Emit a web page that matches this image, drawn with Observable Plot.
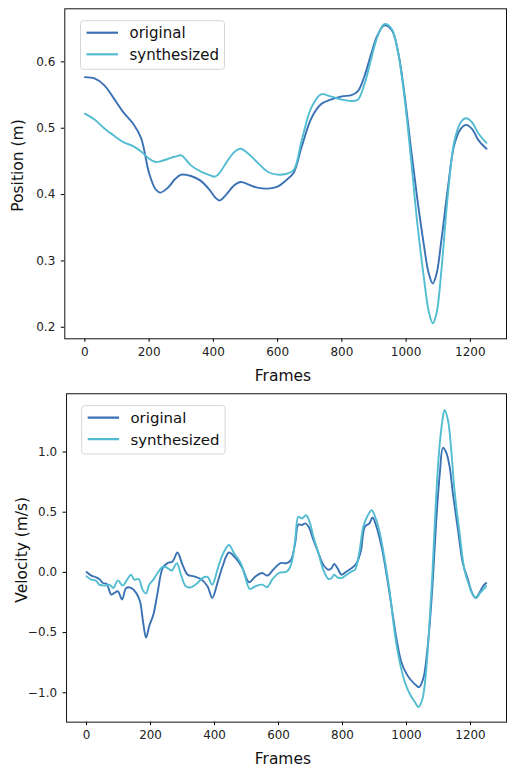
<!DOCTYPE html>
<html><head><meta charset="utf-8">
<script src="https://cdn.jsdelivr.net/npm/d3@7"></script>
<script src="https://cdn.jsdelivr.net/npm/@observablehq/plot@0.6"></script>
<style>
html,body{margin:0;padding:0;background:#fff;overflow:hidden;}
#chart{width:507px;height:767px;overflow:hidden;}
#chart svg{display:block;}
</style>
</head><body><div id="chart"></div>
<script>
const seriesNames = ["original", "synthesized"];
const seriesColors = ["#3a71b4", "#52bcd0"];
const xTicks = [0, 200, 400, 600, 800, 1000, 1200];
const posTicks = [0.2, 0.3, 0.4, 0.5, 0.6];
const velTicks = [-1.0, -0.5, 0.0, 0.5, 1.0];

const posFrames = [0,30,60,90,120,150,175,200,220,235,260,280,300,330,360,390,405,420,440,465,485,510,540,570,600,625,650,675,705,735,765,800,830,850,870,890,910,932,955,975,995,1015,1035,1055,1070,1083,1095,1110,1130,1150,1170,1187,1205,1225,1250];
const posOriginal = [0.577,0.575,0.565,0.545,0.524,0.507,0.485,0.432,0.408,0.403,0.411,0.423,0.430,0.428,0.421,0.406,0.396,0.391,0.400,0.414,0.419,0.415,0.410,0.409,0.412,0.421,0.433,0.472,0.515,0.536,0.543,0.548,0.550,0.556,0.578,0.610,0.639,0.655,0.648,0.615,0.551,0.470,0.393,0.325,0.282,0.266,0.281,0.332,0.410,0.475,0.499,0.505,0.499,0.482,0.469];
const posSynthesized = [0.522,0.513,0.500,0.489,0.479,0.473,0.465,0.454,0.449,0.450,0.454,0.457,0.459,0.444,0.435,0.429,0.427,0.433,0.448,0.464,0.469,0.461,0.447,0.434,0.430,0.431,0.437,0.482,0.531,0.551,0.548,0.543,0.541,0.543,0.566,0.602,0.637,0.657,0.650,0.614,0.546,0.455,0.356,0.276,0.225,0.206,0.222,0.287,0.400,0.480,0.509,0.515,0.509,0.492,0.478];

const velFramesOriginal = [0,15,30,40,51,63,77,87,98,111,124,139,155,167,177,186,196,209,222,238,253,269,284,300,316,336,357,378,393,409,425,445,466,487,508,528,549,565,585,606,626,639,652,662,673,683,694,709,725,740,756,766,774,784,797,813,829,844,857,870,884,894,906,922,937,953,969,984,1000,1015,1031,1039,1052,1062,1072,1083,1093,1104,1114,1124,1135,1145,1161,1176,1192,1205,1216,1228,1239,1249];
const velOriginal = [0.003,-0.027,-0.041,-0.055,-0.088,-0.096,-0.184,-0.170,-0.157,-0.225,-0.129,-0.129,-0.170,-0.239,-0.418,-0.541,-0.445,-0.349,-0.170,0.036,0.077,0.091,0.165,0.063,-0.019,-0.033,-0.055,-0.115,-0.212,-0.088,0.049,0.165,0.118,0.036,-0.082,-0.033,-0.005,-0.027,0.027,0.077,0.077,0.104,0.242,0.398,0.393,0.407,0.379,0.269,0.159,0.063,0.022,0.036,0.071,0.036,-0.019,0.008,0.036,0.077,0.173,0.379,0.407,0.456,0.379,0.214,-0.005,-0.280,-0.555,-0.747,-0.843,-0.898,-0.940,-0.953,-0.885,-0.720,-0.445,-0.033,0.434,0.819,1.035,0.997,0.874,0.654,0.352,0.077,-0.060,-0.170,-0.212,-0.170,-0.115,-0.088];

const velFramesSynthesized = [0,15,30,40,56,72,84,98,113,127,139,149,163,175,186,196,209,222,240,253,267,282,295,310,326,347,362,378,393,409,425,445,461,482,497,510,528,549,565,580,601,626,639,652,662,673,686,697,709,725,740,756,766,774,784,797,813,829,839,852,865,877,891,904,917,932,948,963,979,995,1010,1026,1038,1050,1060,1070,1081,1091,1102,1112,1119,1130,1140,1150,1166,1181,1195,1207,1218,1230,1249];
const velSynthesized = [-0.033,-0.060,-0.069,-0.102,-0.110,-0.102,-0.129,-0.066,-0.110,-0.060,-0.019,-0.060,-0.055,-0.143,-0.176,-0.102,-0.060,-0.005,0.049,0.036,0.016,0.077,-0.019,-0.115,-0.124,-0.088,-0.047,-0.038,-0.102,0.022,0.146,0.228,0.159,0.077,-0.047,-0.137,-0.115,-0.102,-0.121,-0.060,-0.005,0.008,0.063,0.269,0.462,0.448,0.475,0.420,0.297,0.159,0.022,-0.055,-0.047,-0.019,-0.041,-0.047,-0.019,0.008,0.022,0.159,0.379,0.462,0.516,0.448,0.324,0.104,-0.170,-0.500,-0.747,-0.912,-1.008,-1.077,-1.118,-1.049,-0.857,-0.500,-0.005,0.544,1.011,1.258,1.349,1.258,1.011,0.681,0.324,0.022,-0.102,-0.184,-0.212,-0.170,-0.115];

const FONT = "'DejaVu Sans', sans-serif";

function toRows(frames, values, series) {
  return frames.map((f, i) => ({frame: f, value: values[i], series}));
}

function panel(cfg) {
  const data = [
    ...toRows(cfg.framesA, cfg.valuesA, seriesNames[0]),
    ...toRows(cfg.framesB, cfg.valuesB, seriesNames[1])
  ];
  const svg = Plot.plot({
    width: cfg.width,
    height: cfg.height,
    marginLeft: cfg.ml,
    marginRight: cfg.mr,
    marginTop: cfg.mt,
    marginBottom: cfg.mb,
    style: {fontFamily: FONT, fontSize: "12px", color: "#222", background: "#fff", overflow: "visible"},
    x: {domain: [-62.5, 1312.5]},
    y: {domain: cfg.yDomain},
    color: {domain: seriesNames, range: seriesColors},
    marks: [
      Plot.axisX({ticks: xTicks, tickFormat: d3.format("d"), tickSize: 3.5, tickPadding: 5, label: null, fontSize: 12, stroke: "#000"}),
      Plot.axisY({ticks: cfg.yTicks, tickFormat: d3.format(".1f"), tickSize: 3.5, tickPadding: 6, label: null, fontSize: 12, stroke: "#000"}),
      Plot.line(data, {x: "frame", y: "value", z: "series", stroke: "series", strokeWidth: 1.9, curve: "catmull-rom"}),
      Plot.frame({stroke: "#111", strokeWidth: 1})
    ]
  });
  const s = d3.select(svg);
  // axis titles
  s.append("text")
    .attr("x", cfg.xLabelX).attr("y", cfg.xLabelY)
    .attr("text-anchor", "middle")
    .style("font-family", FONT).style("font-size", "15.5px").attr("fill", "#111")
    .text("Frames");
  s.append("text")
    .attr("transform", `translate(${cfg.yLabelX},${cfg.yLabelY}) rotate(-90)`)
    .attr("text-anchor", "middle").attr("dy", "0.35em")
    .style("font-family", FONT).style("font-size", "15.5px").attr("fill", "#111")
    .text(cfg.yLabel);
  // legend (matplotlib-style box)
  const g = s.append("g").attr("transform", `translate(${cfg.legX},${cfg.legY})`);
  g.append("rect").attr("x", 0).attr("y", 0).attr("width", 144).attr("height", 48.6)
    .attr("rx", 3).attr("fill", "rgba(255,255,255,0.8)").attr("stroke", "#d6d6d6").attr("stroke-width", 1);
  seriesNames.forEach((name, i) => {
    const ly = 12 + i * 21.6;
    g.append("line").attr("x1", 6).attr("x2", 37.5).attr("y1", ly).attr("y2", ly)
      .attr("stroke", seriesColors[i]).attr("stroke-width", 2.2);
    g.append("text").attr("x", 49).attr("y", ly + 5.6)
      .attr("text-anchor", "start")
      .style("text-anchor", "start")
      .style("font-family", FONT).style("font-size", "15px").attr("fill", "#111")
      .text(name);
  });
  return svg;
}

const chart = document.getElementById("chart");
chart.appendChild(panel({
  width: 507, height: 384, ml: 64.3, mr: 1, mt: 8.3, mb: 45.7,
  yDomain: [0.1826, 0.680], yTicks: posTicks,
  framesA: posFrames, valuesA: posOriginal,
  framesB: posFrames, valuesB: posSynthesized,
  yLabel: "Position (m)", yLabelX: 17.5, yLabelY: 165.5,
  xLabelX: 283, xLabelY: 381,
  legX: 80.5, legY: 20.7
}));
chart.appendChild(panel({
  width: 509, height: 383, ml: 66.3, mr: 1, mt: 9.3, mb: 44,
  yDomain: [-1.244, 1.484], yTicks: velTicks,
  framesA: velFramesOriginal, valuesA: velOriginal,
  framesB: velFramesSynthesized, valuesB: velSynthesized,
  yLabel: "Velocity (m/s)", yLabelX: 22, yLabelY: 166.5,
  xLabelX: 284, xLabelY: 381.7,
  legX: 82, legY: 21.7
}));
</script>
</body></html>
